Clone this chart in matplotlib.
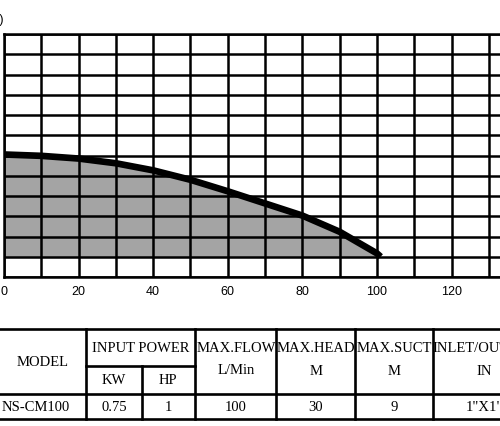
import matplotlib
matplotlib.use('Agg')
import matplotlib.pyplot as plt

# ---- data ----
flow = [0, 10, 20, 30, 40, 50, 60, 70, 80, 90, 100, 101]
head = [30.3, 29.9, 29.1, 27.7, 25.6, 22.8, 19.4, 15.8, 12.2, 7.4, 1.0, 0.0]
x_ticks = list(range(0, 140, 10))
x_labels = [str(t) if t % 20 == 0 else '' for t in x_ticks]
y_ticks = list(range(-6, 67, 6))

hdr_top = ['MODEL', 'INPUT POWER', 'MAX.FLOW', 'MAX.HEAD', 'MAX.SUCT', 'INLET/OUTLET']
hdr_sub = ['KW', 'HP', 'L/Min', 'M', 'M', 'IN']
row_vals = ['NS-CM100', '0.75', '1', '100', '30', '9', '1"X1"']

W, H = 500, 427
fig = plt.figure(figsize=(W / 100, H / 100), dpi=100)

# ---- chart ----
ax = fig.add_axes([4 / W, 149 / H, 496 / W, 243 / H])
ax.set_xlim(0, 133)
ax.set_ylim(-6, 66)
ax.fill_between(flow, head, 0, color='#a4a4a4', zorder=1, linewidth=0)
ax.set_xticks(x_ticks)
ax.set_xticklabels(x_labels, fontfamily='Liberation Sans', fontsize=9)
ax.set_yticks(y_ticks)
ax.set_yticklabels([])
ax.tick_params(length=0, pad=6)
ax.grid(True, color='black', linewidth=1.8, zorder=2)
ax.set_axisbelow(False)
for s in ['left', 'bottom', 'top']:
    ax.spines[s].set_linewidth(1.8)
ax.spines['right'].set_visible(False)
ax.plot(flow, head, color='black', linewidth=4.8, solid_capstyle='butt',
        solid_joinstyle='round', zorder=3)

fig.text(4 / W, 1 - 20 / H, '(m)', ha='right', va='center', fontsize=9,
         fontfamily='Liberation Sans')

# ---- spec table ----
tx = fig.add_axes([0, 0, 1, 1])
tx.set_xlim(0, W)
tx.set_ylim(H, 0)
tx.axis('off')
lw = 1.9
def hl(y, x0, x1):
    tx.plot([x0, x1], [y, y], color='black', linewidth=lw, solid_capstyle='projecting')
def vl(x, y0, y1):
    tx.plot([x, x], [y0, y1], color='black', linewidth=lw, solid_capstyle='projecting')

hl(330, 0, W)
hl(395, 0, W)
hl(420, 0, W)
hl(367, 86, 195)
for x in [86, 195, 276, 355, 433]:
    vl(x, 330, 420)
vl(142, 367, 420)

tf = dict(fontfamily='Liberation Serif', fontsize=10.5, ha='center', va='center')
tx.text(43, 363, hdr_top[0], **tf)
tx.text(141, 349, hdr_top[1], **tf)
tx.text(236, 349, hdr_top[2], **tf)
tx.text(316, 349, hdr_top[3], **tf)
tx.text(394, 349, hdr_top[4], **tf)
tx.text(484, 349, hdr_top[5], **tf)

tx.text(114, 381, hdr_sub[0], **tf)
tx.text(168, 381, hdr_sub[1], **tf)
tx.text(236, 371, hdr_sub[2], **tf)
tx.text(316, 372, hdr_sub[3], **tf)
tx.text(394, 372, hdr_sub[4], **tf)
tx.text(484, 372, hdr_sub[5], **tf)

rf = dict(tf)
tx.text(70, 408, row_vals[0], **{**rf, 'ha': 'right'})
for x, v in zip([114, 168, 236, 316, 394, 484], row_vals[1:]):
    tx.text(x, 408, v, **rf)

fig.savefig('out.png', dpi=100)
